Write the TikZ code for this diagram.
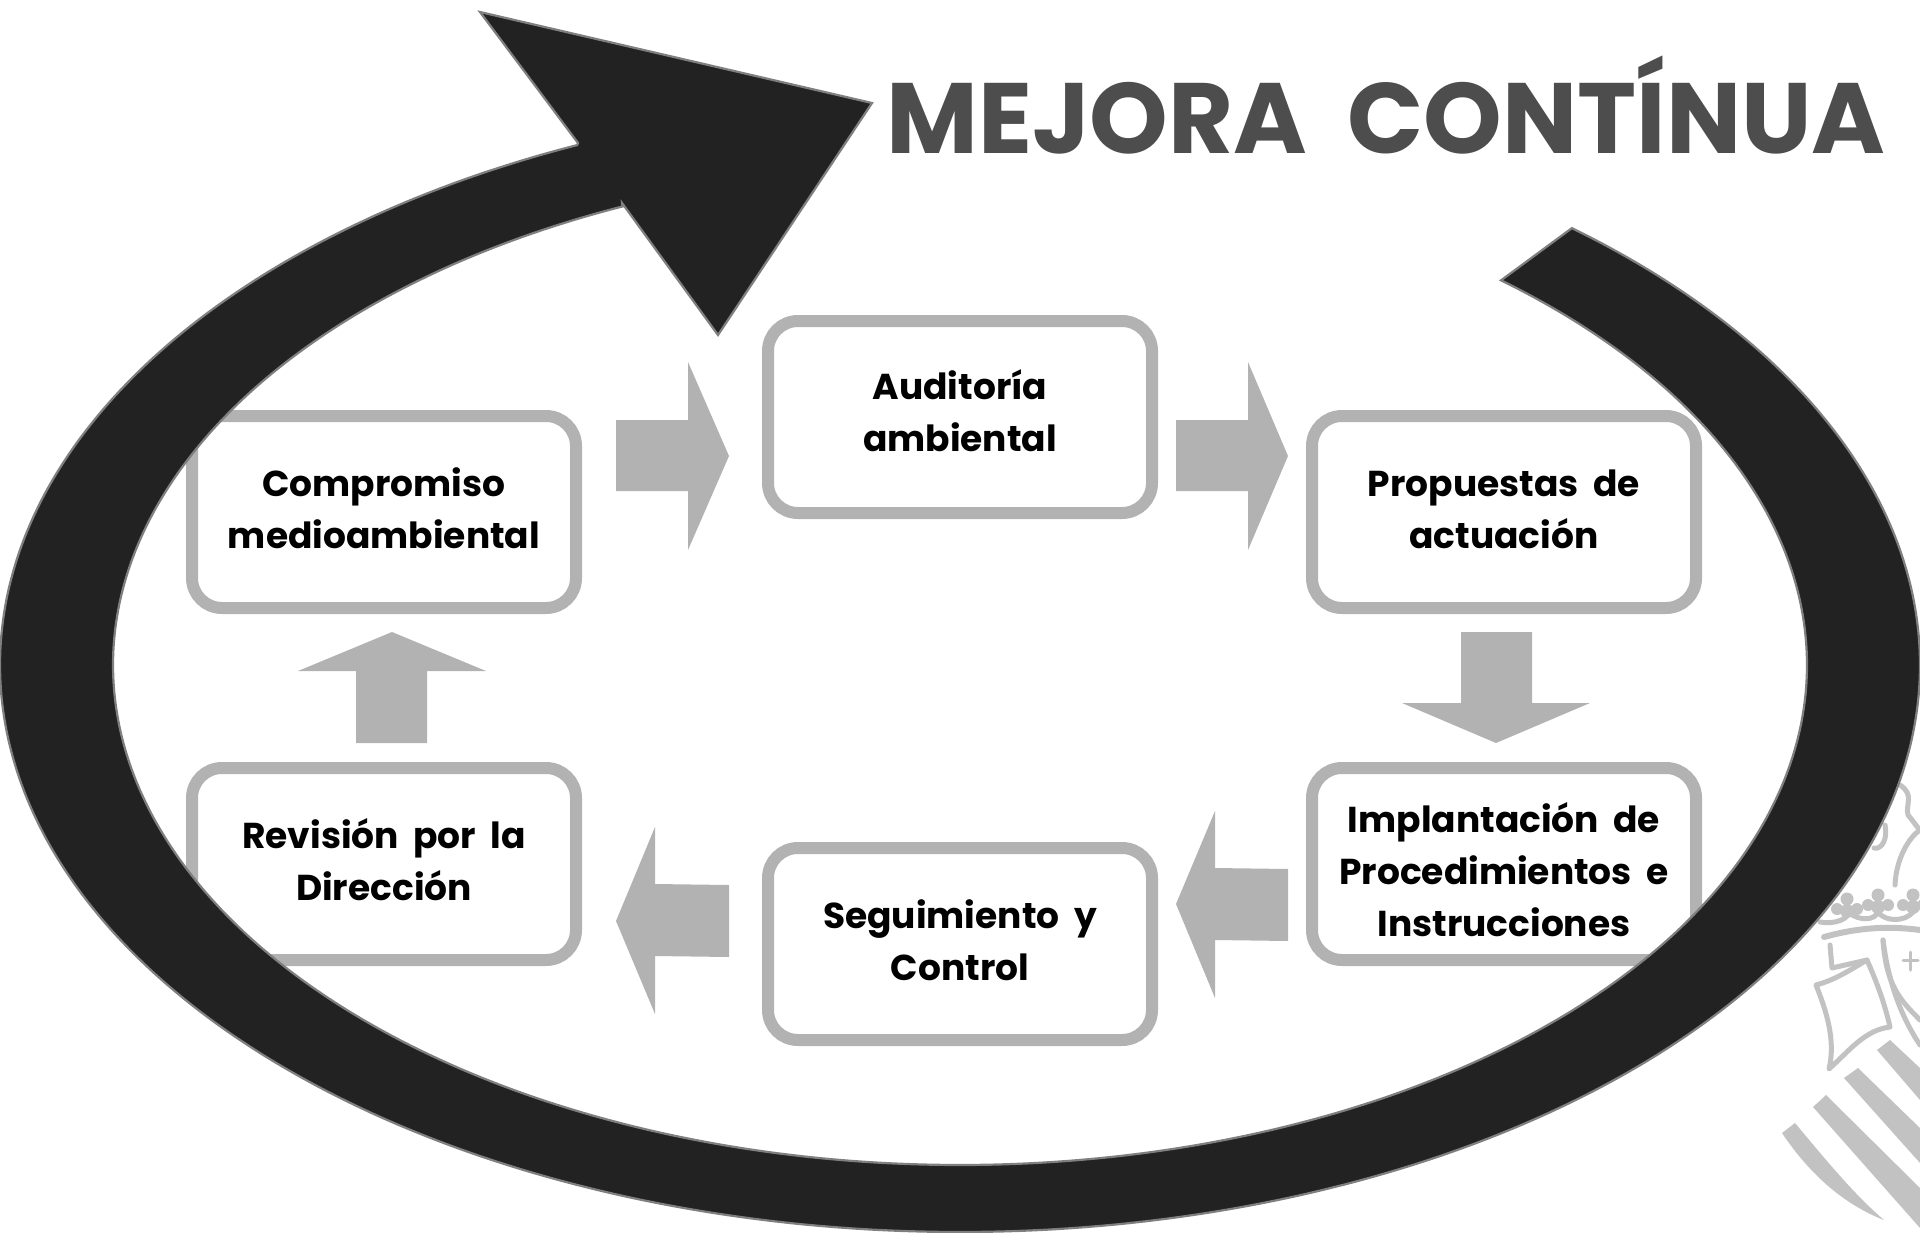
\documentclass[tikz,border=0pt]{standalone}
\usepackage{fontspec}
\setmainfont[WordSpace=1.9]{Poppins}
\tikzset{
  x=1pt,y=-1pt,
  flow/.style={draw=boxgray,line width=12pt,rounded corners=30pt,fill=white,minimum width=384pt,minimum height=192pt,inner sep=0pt},
  flowtext/.style={inner sep=0pt,align=center,text=black,font=\fontsize{36}{52}\selectfont\bfseries},
  blockarrow/.style={fill=boxgray,draw=none},
  bigarrow/.style={fill=bigblack,draw=edgegray,line width=2.2pt,line join=miter},
  crestline/.style={draw=crestgray,line width=5pt,fill=none,line cap=round,line join=round},
  creststripe/.style={fill=crestgray,draw=none},
  titletext/.style={text=titlegray,inner sep=0pt,anchor=base,font=\fontsize{100}{110}\selectfont\bfseries}
}
\definecolor{boxgray}{HTML}{B2B2B2}
\definecolor{bigblack}{HTML}{222222}
\definecolor{edgegray}{HTML}{7F7F7F}
\definecolor{crestgray}{HTML}{C2C2C2}
\definecolor{titlegray}{HTML}{4D4D4D}
\begin{document}
\begin{tikzpicture}
\useasboundingbox (0,0) rectangle (1920,1232);
\clip (0,0) rectangle (1920,1232);
% crest
\fill[creststripe] (1782,1133) -- (1795,1123) .. controls (1830,1165) and (1855,1195) .. (1884,1220) .. controls (1845,1205) and (1810,1175) .. cycle;
\fill[creststripe] (1813,1107) -- (1826,1095) -- (1920,1188) -- (1920,1228) -- cycle;
\fill[creststripe] (1844,1078) -- (1858,1068) -- (1920,1128) -- (1920,1163) -- cycle;
\fill[creststripe] (1877,1050) -- (1890,1040) -- (1920,1068) -- (1920,1100) -- cycle;
\draw[crestline] (1816,985) .. controls (1835,980) and (1850,970) .. (1867,960) .. controls (1878,985) and (1885,1005) .. (1890,1027) .. controls (1865,1030) and (1850,1050) .. (1829,1069) .. controls (1836,1040) and (1826,1010) .. cycle;
\draw[crestline] (1830,945) -- (1832,968) -- (1867,960);
\draw[crestline] (1883,940) .. controls (1888,980) and (1900,1015) .. (1920,1045);
\draw[crestline] (1883,940) .. controls (1886,985) and (1900,1000) .. (1920,1020);
\draw[crestline, line width=6pt] (1824,937) .. controls (1860,927) and (1890,926) .. (1920,930);
\draw[crestline] (1820,922) .. controls (1835,925) and (1850,918) .. (1848,912) .. controls (1860,922) and (1875,920) .. (1878,912) .. controls (1885,922) and (1905,922) .. (1913,912);
\foreach \cx/\cy in {1847/899,1878/895,1913/895}{
  \fill[crestgray] (\cx,\cy) circle (6.5);
  \fill[crestgray] (\cx-10,\cy+10) circle (6);
  \fill[crestgray] (\cx+10,\cy+10) circle (6);
  \fill[crestgray] (\cx,\cy+12) circle (7);
}
\draw[crestline,line width=3pt] (1910,952) -- (1910,970) (1903,960) -- (1918,960);
\draw[crestline] (1900,785) .. controls (1915,795) and (1905,805) .. (1908,815) .. controls (1914,822) and (1916,826) .. (1920,830) .. controls (1908,838) and (1896,860) .. (1895,885);
\draw[crestline] (1885,825) .. controls (1888,838) and (1882,850) .. (1874,848);
% process boxes
\node[flow] (comp) at (384,512) {};
\node[flow] (audi) at (960,417) {};
\node[flow] (prop) at (1504,512) {};
\node[flow] (impl) at (1504,864) {};
\node[flow] (segu) at (960,944) {};
\node[flow] (revi) at (384,864) {};
\node[flowtext,yshift=4pt] (compt) at (comp.center) {Compromiso\\medioambiental};
\node[flowtext,yshift=6pt] (audit) at (audi.center) {Auditoría\\ambiental};
\node[flowtext,yshift=3pt] (propt) at (prop.center) {Propuestas de\\actuación};
\node[flowtext,yshift=-6pt] (implt) at (impl.center) {Implantación de\\Procedimientos e\\Instrucciones};
\node[flowtext,yshift=4pt] (segut) at (segu.center) {Seguimiento y\\Control};
\node[flowtext,yshift=4pt] (revit) at (revi.center) {Revisión por la\\Dirección};
% block arrows
\fill[blockarrow] (616,420) -- (688,420) -- (688,362) -- (729,456) -- (688,550) -- (688,491) -- (616,491) -- cycle;
\fill[blockarrow] (1176,420) -- (1248,420) -- (1248,362) -- (1288,456) -- (1248,550) -- (1248,491) -- (1176,491) -- cycle;
\fill[blockarrow] (1461,632) -- (1532,632) -- (1532,703) -- (1590,703) -- (1496,743) -- (1402,703) -- (1461,703) -- cycle;
\fill[blockarrow] (1288,869) -- (1215,868) -- (1215,811) -- (1176,904) -- (1215,998) -- (1215,940) -- (1288,941) -- cycle;
\fill[blockarrow] (729,885) -- (655,884) -- (655,827) -- (616,921) -- (655,1014) -- (655,956) -- (729,957) -- cycle;
\fill[blockarrow] (427,743) -- (356,743) -- (356,671) -- (298,671) -- (392,632) -- (486,671) -- (427,671) -- cycle;
% big circular arrow
\draw[bigarrow] plot[domain=-50.4:246.5,samples=240,smooth] ({960+960*cos(\x)},{665+567*sin(\x)})
  -- (578,143) -- (480,12) -- (872,103) -- (718,335) -- (622,203)
  -- plot[domain=246.5:-50.3,samples=240,smooth] ({960+847*cos(\x)},{665+500*sin(\x)}) -- cycle;
% title
\node[titletext] (title) at (1386,153) {MEJORA CONTÍNUA};
\end{tikzpicture}
\end{document}
